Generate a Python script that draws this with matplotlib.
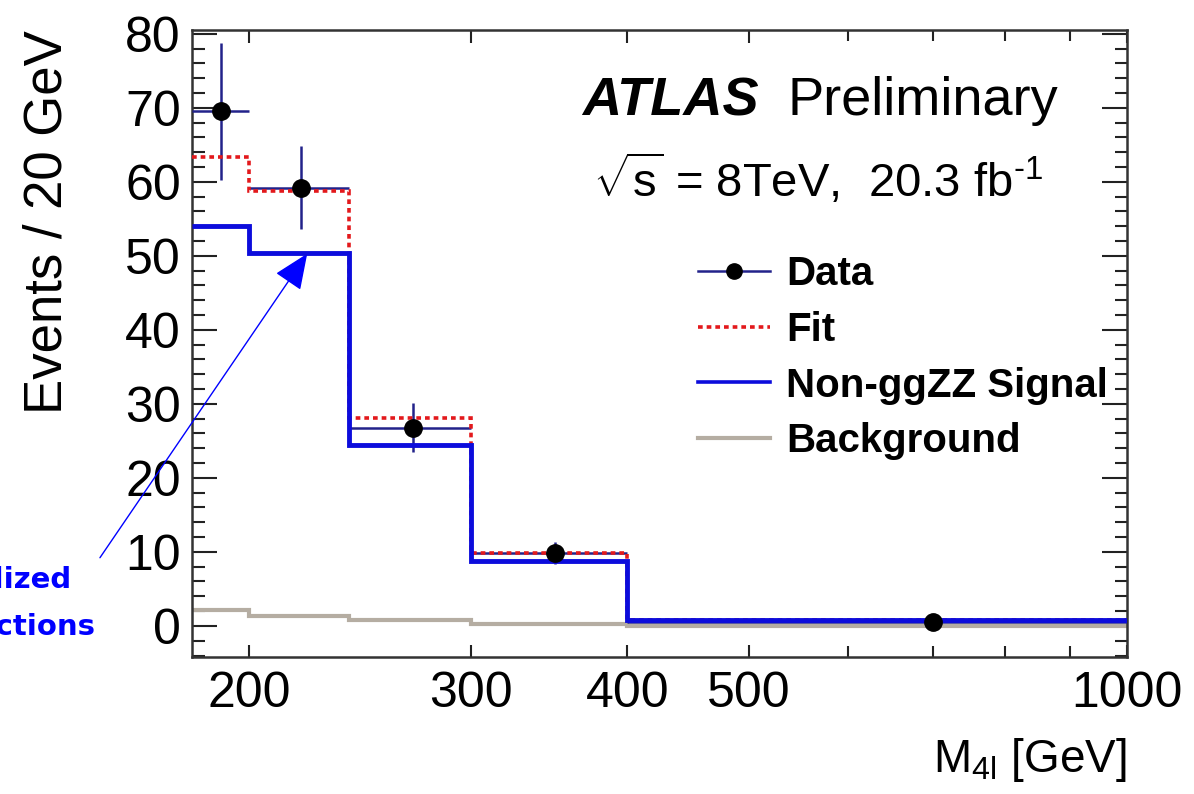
"""
ATLAS-style M4l distribution: data points, fit, non-ggZZ signal and background
as step histograms on a log mass axis.
"""
import matplotlib
matplotlib.use("Agg")
import matplotlib.pyplot as plt
import numpy as np
from matplotlib.lines import Line2D

# bin edges in M4l [GeV] and per-bin contents (events / 20 GeV)
bin_edges = [180, 200, 240, 300, 400, 1000]
fit_values = [63.4, 58.7, 28.1, 9.9, 0.8]
signal_values = [54.0, 50.4, 24.5, 8.8, 0.8]
background_values = [2.2, 1.35, 0.8, 0.25, 0.05]

# data points (placed at the bin centres)
data_x = [190, 220, 270, 350, 700]
data_y = [69.5, 59.2, 26.8, 9.9, 0.55]
data_err = [9.3, 5.6, 3.3, 1.5, 0.4]

x_ticks = [200, 300, 400, 500, 1000]
x_minor_ticks = [600, 700, 800, 900]
y_ticks = [0, 10, 20, 30, 40, 50, 60, 70, 80]

SANS = ["Liberation Sans", "DejaVu Sans"]
plt.rcParams["font.family"] = SANS
plt.rcParams["mathtext.fontset"] = "custom"
plt.rcParams["mathtext.rm"] = "Liberation Sans"
plt.rcParams["mathtext.it"] = "Liberation Sans:italic"

BLUE = "#0c0cdc"
NAVY = "#22228a"
RED = "#e3191c"
GREY = "#b5ada2"

fig = plt.figure(figsize=(11.94, 7.94), dpi=100)
ax = fig.add_axes([192 / 1194, 1 - 657 / 794, 935 / 1194, 627 / 794])

ax.stairs(background_values, bin_edges, baseline=None, color=GREY, lw=3.0, zorder=2)
ax.stairs(fit_values, bin_edges, baseline=None, color=RED, lw=2.6,
          linestyle=(0, (1.3, 1.1)), zorder=4)
ax.stairs(signal_values, bin_edges, baseline=None, color=BLUE, lw=3.5, zorder=5)

edges = np.array(bin_edges)
x_lo = np.array(data_x) - edges[:-1]
x_hi = edges[1:] - np.array(data_x)
ax.errorbar(data_x, data_y, yerr=data_err, xerr=[x_lo, x_hi], fmt="none",
            ecolor=NAVY, elinewidth=1.8, capsize=0, zorder=3)
ax.plot(data_x, data_y, "o", color="black", ms=12.5, zorder=6)

ax.set_xscale("log")
ax.set_xlim(180, 1000)
ax.set_ylim(-4.2, 80.5)
ax.set_xticks(x_ticks)
ax.set_xticklabels([str(t) for t in x_ticks])
ax.set_xticks(x_minor_ticks, minor=True)
ax.set_xticklabels([], minor=True)
ax.set_yticks(y_ticks)
ax.set_yticks(np.arange(-4, 81, 2), minor=True)

ax.tick_params(axis="both", which="both", direction="in", top=True, right=True,
               color="#222222", width=1.5)
ax.tick_params(axis="y", which="major", length=18, labelsize=36, pad=8)
ax.tick_params(axis="y", which="minor", length=9)
ax.tick_params(axis="x", which="major", length=9, labelsize=36, pad=10)
ax.tick_params(axis="x", which="minor", length=8)
for sp in ax.spines.values():
    sp.set_linewidth(1.8)
    sp.set_color("#333333")

ax.set_ylabel("Events / 20 GeV", fontsize=38, loc="top")
ax.yaxis.set_label_coords(-0.128, 1.0)
ax.set_xlabel(r"M$_{\mathrm{4l}}$ [GeV]", fontsize=33, loc="right", labelpad=14)

# ATLAS label and run conditions
ax.text(0.417, 0.864, "ATLAS", transform=ax.transAxes, fontsize=39,
        fontweight="bold", fontstyle="italic", va="baseline")
ax.text(0.637, 0.864, "Preliminary", transform=ax.transAxes, fontsize=39,
        va="baseline")
ax.text(0.429, 0.734, r"$\sqrt{\mathrm{s}}$ = 8TeV,  20.3 fb$^{\text{-1}}$",
        transform=ax.transAxes, fontsize=34, va="baseline")

handles = [
    Line2D([], [], color=NAVY, lw=1.8, marker="o", mfc="black", mec="black", ms=11),
    Line2D([], [], color=RED, lw=2.6, linestyle=(0, (1.3, 1.1))),
    Line2D([], [], color=BLUE, lw=2.6),
    Line2D([], [], color=GREY, lw=3.0),
]
labels = ["Data", "Fit", "Non-ggZZ Signal", "Background"]
ax.legend(handles, labels, loc="upper left", bbox_to_anchor=(0.541, 0.641),
          frameon=False, prop={"size": 29, "weight": "bold"}, handlelength=1.78,
          handletextpad=0.42, labelspacing=0.44, borderpad=0, borderaxespad=0)

# annotation arrow and the (partly cut off) blue note at the left edge
ax.annotate("", xy=(223, 50.6), xytext=(151.6, 8.9),
            arrowprops=dict(arrowstyle="-|>,head_length=0.7,head_width=0.3",
                            color="blue", lw=1.0, mutation_scale=32),
            annotation_clip=False)
fig.text(72 / 1194, 1 - 588 / 794, "Normalized", color="blue", fontsize=21,
         fontweight="bold", family=["DejaVu Sans"], ha="right", va="baseline")
fig.text(95 / 1194, 1 - 635 / 794, "cross sections", color="blue", fontsize=21,
         fontweight="bold", family=["DejaVu Sans"], ha="right", va="baseline")

fig.savefig("out.png", dpi=100)
